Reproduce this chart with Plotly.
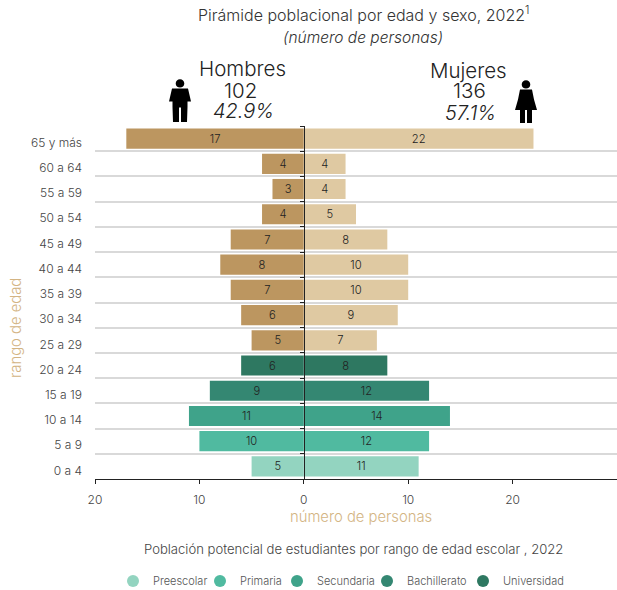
import plotly.graph_objects as go

FONT = "Inter"
age_groups = ["0 a 4", "5 a 9", "10 a 14", "15 a 19", "20 a 24", "25 a 29", "30 a 34",
              "35 a 39", "40 a 44", "45 a 49", "50 a 54", "55 a 59", "60 a 64", "65 y más"]
men = [5, 10, 11, 9, 6, 5, 6, 7, 8, 7, 4, 3, 4, 17]
women = [11, 12, 14, 12, 8, 7, 9, 10, 10, 8, 5, 4, 4, 22]
tan = "#BC9660"
light_tan = "#DFC9A2"
men_colors = ["#93D4C0", "#50BAA0", "#3FA38A", "#348772", "#2E7861"] + [tan] * 9
women_colors = ["#93D4C0", "#50BAA0", "#3FA38A", "#348772", "#2E7861"] + [light_tan] * 9
legend_names = ["Preescolar", "Primaria", "Secundaria", "Bachillerato", "Universidad"]
legend_colors = ["#93D4C0", "#50BAA0", "#3FA38A", "#348772", "#2E7861"]
legend_widths = [51, 41, 54, 60, 66]
x_ticks = [-20, -10, 0, 10, 20, 30]
x_labels = ["20", "10", "0", "10", "20", "30"]

fig = go.Figure()
# Invisible trace that carries the age labels on the left-hand axis
fig.add_scatter(y=age_groups, x=[None] * len(age_groups), mode="markers", showlegend=False,
                hoverinfo="skip", yaxis="y")
fig.add_bar(y=age_groups, x=[-v for v in men], orientation="h", width=0.8, yaxis="y2",
            marker=dict(color=men_colors, line_width=0), text=men, textposition="inside",
            insidetextanchor="middle", textangle=0, showlegend=False, hoverinfo="skip",
            insidetextfont=dict(family=FONT, size=15, color="#222222", weight=300))
fig.add_bar(y=age_groups, x=women, orientation="h", width=0.8, yaxis="y2",
            marker=dict(color=women_colors, line_width=0), text=women, textposition="inside",
            insidetextanchor="middle", textangle=0, showlegend=False, hoverinfo="skip",
            insidetextfont=dict(family=FONT, size=15, color="#222222", weight=300))
for name, color, w in zip(legend_names, legend_colors, legend_widths):
    fig.add_scatter(x=[None], y=[None], mode="markers", name=name, legendwidth=w,
                    marker=dict(symbol="circle", size=13, color=color))

def note(text, x, y, size, color="#333333", italic=False, angle=0):
    fig.add_annotation(text=text, xref="paper", yref="paper",
                       x=(x - 95) / 522, y=(479 - y) / 353, showarrow=False,
                       xanchor="center", yanchor="middle", textangle=angle,
                       font=dict(family=FONT, size=size, color=color, weight=300,
                                 style="italic" if italic else "normal"))

note("Pirámide poblacional por edad y sexo, 2022<sup>1</sup>", 363, 14, 16)
note("(número de personas)", 363, 37, 15.5, italic=True)
note("Hombres", 242, 69, 20.5, "#222222")
note("102", 240, 90, 20.5, "#222222")
note("42.9%", 243, 111, 20, "#222222", italic=True)
note("Mujeres", 468, 70, 20.5, "#222222")
note("136", 469, 91, 20.5, "#222222")
note("57.1%", 470, 113, 20, "#222222", italic=True)
note("número de personas", 361, 517, 14.8, "#D3B483")
note("rango de edad", 16, 328, 14.8, "#D3B483", angle=-90)
note("Población potencial de estudiantes por rango de edad escolar , 2022", 353, 549, 13.1, "#444444")

head = ("M -4.3 17 C -4.3 19.4 -2.4 21.3 0 21.3 C 2.4 21.3 4.3 19.4 4.3 17 "
        "C 4.3 14.6 2.4 12.9 0 12.9 C -2.4 12.9 -4.3 14.6 -4.3 17 Z ")
man_path = head + ("M -8 12 L 8 12 L 11 -1 L 7.5 -1 L 7.5 -6.5 L 7 -21.5 L 1 -21.5 L 1 -7 L -1 -7 "
                   "L -1 -21.5 L -7 -21.5 L -7.5 -6.5 L -7.5 -1 L -11 -1 Z")
woman_path = head + ("M -6 12 L 6 12 L 8 2 L 11 -8.5 L 6 -8.5 L 6 -21.5 L 1 -21.5 L 1 -8.5 L -1 -8.5 "
                     "L -1 -21.5 L -6 -21.5 L -6 -8.5 L -11 -8.5 L -8 2 Z")
for path, px, py in [(man_path, 180, 100.5), (woman_path, 526, 101.5)]:
    fig.add_shape(type="path", path=path, xsizemode="pixel", ysizemode="pixel",
                  xanchor=(px - 95) / 522, yanchor=(479 - py) / 353, xref="paper", yref="paper",
                  fillcolor="#000000", line_width=0, layer="above")

fig.update_layout(
    width=617, height=590, margin=dict(l=95, r=0, t=126, b=111, autoexpand=False),
    paper_bgcolor="white", plot_bgcolor="white", barmode="overlay",
    font=dict(family=FONT, size=12, color="#444444"),
    xaxis=dict(range=[-20, 30], tickvals=x_ticks, ticktext=x_labels, showgrid=False, zeroline=False,
               showline=True, linecolor="#222222", linewidth=1, ticks="outside", ticklen=4,
               tickcolor="#222222", ticklabelstandoff=6,
               tickfont=dict(family=FONT, size=12, color="#444444", weight=300)),
    # Labels sit about 4 px below each band's centre in the reference
    yaxis=dict(type="category", categoryorder="array", categoryarray=age_groups, range=[-0.34, 13.66],
               showgrid=False, ticks="", showline=False, zeroline=False,
               tickfont=dict(family=FONT, size=12, color="#444444", weight=300), ticklabelstandoff=12),
    yaxis2=dict(type="category", categoryorder="array", categoryarray=age_groups, range=[-0.5, 13.5],
                overlaying="y", anchor="free", position=0.4, side="left", tickson="boundaries",
                showgrid=True, gridcolor="#D9D9D9", gridwidth=2, showline=True, linecolor="#222222",
                linewidth=1, ticks="outside", ticklen=4, tickcolor="#222222", showticklabels=False,
                zeroline=False),
    legend=dict(orientation="h", x=(122 - 95) / 522, xanchor="left", y=(479 - 581) / 353,
                yanchor="middle", font=dict(family=FONT, size=11, color="#555555", weight=300),
                itemsizing="constant", itemwidth=30, indentation=-9),
)
fig.write_html("out.html", post_script="document.body.style.margin='0';",
               config=dict(displayModeBar=False))
